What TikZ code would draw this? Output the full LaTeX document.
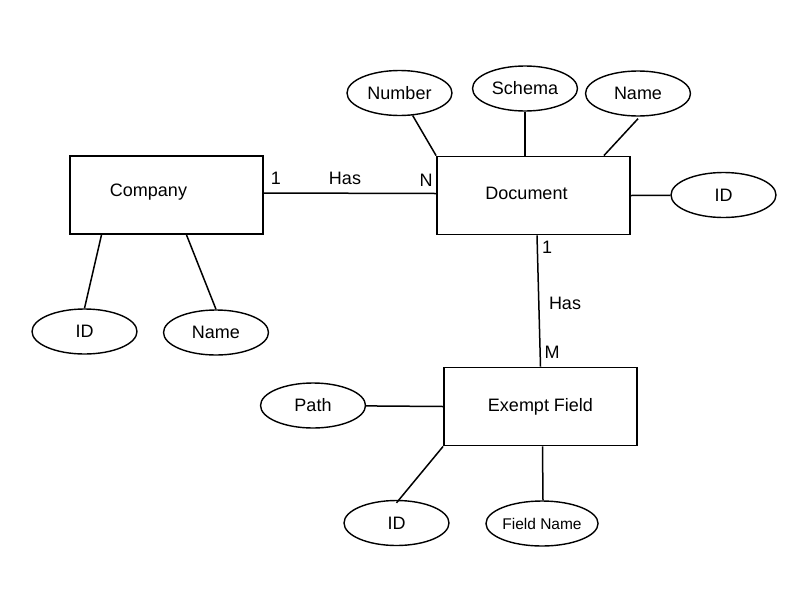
\documentclass[tikz,border=0pt]{standalone}
\usepackage{fontspec}
\setmainfont{Liberation Sans}
\usetikzlibrary{shapes.geometric}

\begin{document}
\begin{tikzpicture}[x=1pt, y=-1pt,
        entity/.style={draw, line width=1.8pt, minimum width=193pt, minimum height=78pt, inner sep=0pt},
        attrib/.style={draw, ellipse, line width=1.4pt, minimum width=105pt, minimum height=45pt, inner sep=0pt},
        conn/.style={line width=1.5pt},
        every node/.style={font=\fontsize{18}{21}\selectfont}]
            \useasboundingbox (0, 0) rectangle (800, 600);
            % entities
            \node[entity, label={[xshift=-18pt, yshift=3pt]center:Company}] (company) at (166.5, 195) {};
            \node[entity, label={[xshift=-7pt, yshift=2pt]center:Document}] (doc) at (533.5, 195.5) {};
            \node[entity] (field) at (540.5, 406.5) {Exempt Field};
            % attributes
            \node[attrib] (docnumber) at (399.5, 93) {Number};
            \node[attrib] (docschema) at (525, 88.5) {Schema};
            \node[attrib] (docname) at (638, 93.5) {Name};
            \node[attrib] (docid) at (723.5, 195) {ID};
            \node[attrib] (compid) at (84.5, 331.5) {ID};
            \node[attrib] (compname) at (216, 332.5) {Name};
            \node[attrib] (fieldpath) at (313, 405.5) {Path};
            \node[attrib] (fieldid) at (396.5, 523) {ID};
            \node[attrib, font=\fontsize{15.5}{18}\selectfont] (fieldname) at (542, 523.5) {Field Name};
            % connectors
            \draw[conn] ([yshift=2pt]company.east) -- ([yshift=2pt]doc.west);
            \draw[conn] (docnumber) -- (doc.north west);
            \draw[conn] (docschema.south) -- (docschema.south |- doc.north);
            \draw[conn] ([yshift=-2pt]docname.south) -- ([xshift=-27pt]doc.north east);
            \draw[conn] (doc.east) -- (docid);
            \draw[conn] ([xshift=-65pt]company.south) -- (compid.north);
            \draw[conn] ([xshift=20pt]company.south) -- (compname.north);
            \draw[conn] ([xshift=3.5pt]doc.south) -- (field.north);
            \draw[conn] (fieldpath) -- (field.west);
            \draw[conn] (field.south west) -- ([yshift=-3pt]fieldid.north);
            \draw[conn] ([xshift=2pt]field.south) -- ([xshift=1pt]fieldname.north);
            % cardinalities
            \node[] (c1) at (276, 178) {1};
            \node[] (has1) at (345, 178) {Has};
            \node[] (cn) at (426, 180) {N};
            \node[] (c2) at (547, 247) {1};
            \node[] (has2) at (565, 303) {Has};
            \node[] (cm) at (552, 352) {M};
        \end{tikzpicture}
\end{document}
